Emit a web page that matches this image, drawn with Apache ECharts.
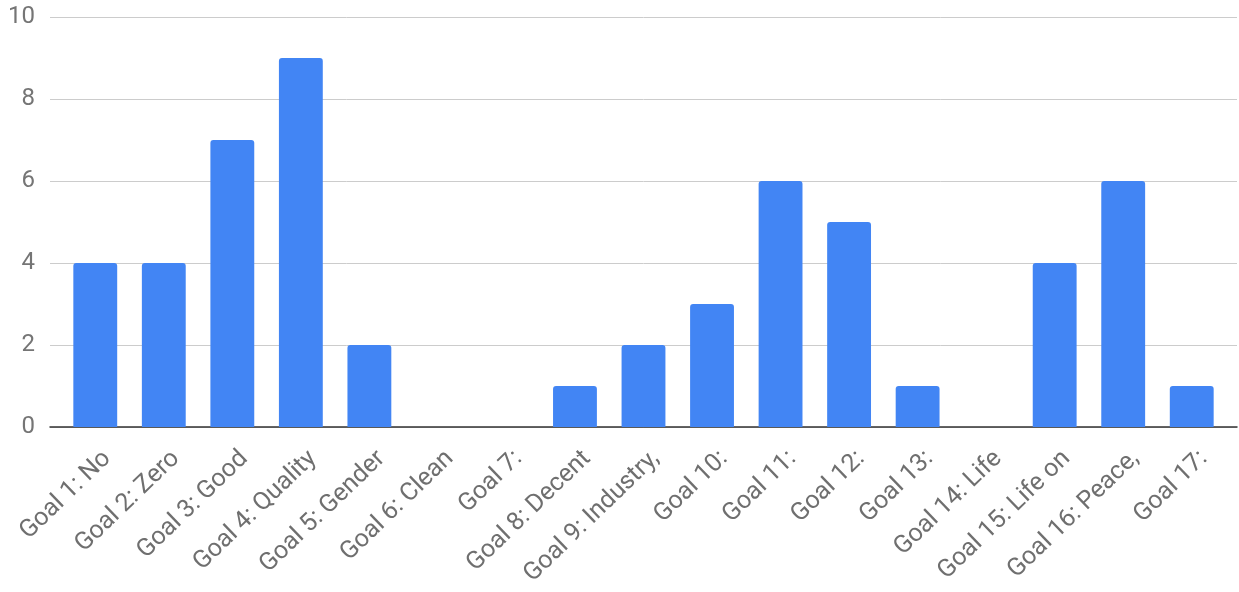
<!DOCTYPE html>
<html>
<head>
<meta charset="utf-8">
<script src="https://cdn.jsdelivr.net/npm/echarts@6/dist/echarts.min.js"></script>
<style>
  html, body { margin: 0; padding: 0; background: #fff; }
  #main { width: 1239px; height: 592px; }
</style>
</head>
<body>
<div id="main"></div>
<script>
var goals = ['Goal 1: No', 'Goal 2: Zero', 'Goal 3: Good', 'Goal 4: Quality', 'Goal 5: Gender',
  'Goal 6: Clean', 'Goal 7:', 'Goal 8: Decent', 'Goal 9: Industry,', 'Goal 10:', 'Goal 11:',
  'Goal 12:', 'Goal 13:', 'Goal 14: Life', 'Goal 15: Life on', 'Goal 16: Peace,', 'Goal 17:'];
var counts = [4, 4, 7, 9, 2, 0, 0, 1, 2, 3, 6, 5, 1, 0, 4, 6, 1];
var yTicks = [0, 2, 4, 6, 8, 10];

var chart = echarts.init(document.getElementById('main'));
var font = 'Roboto, "Noto Sans", sans-serif';
var yMin = yTicks[0], yMax = yTicks[yTicks.length - 1];

var option = {
  animation: false,
  grid: [
    // 0: gridlines + baseline, wider than the bars
    { left: 50, right: 2, top: 17, bottom: 165 },
    // 1: bars
    { left: 61, right: 13, top: 17, bottom: 165 },
    // 2: category labels, nudged right like the original
    { left: 73, right: 1, top: 17, bottom: 165 }
  ],
  xAxis: [
    {
      gridIndex: 0, type: 'value', min: 0, max: 1,
      axisLine: { show: true, onZero: false, lineStyle: { color: '#333', width: 1.5 } },
      axisTick: { show: false }, axisLabel: { show: false }, splitLine: { show: false }
    },
    {
      gridIndex: 1, type: 'category', data: goals,
      axisLine: { show: false }, axisTick: { show: false }, axisLabel: { show: false }
    },
    {
      gridIndex: 2, type: 'category', data: goals,
      axisLine: { show: false }, axisTick: { show: false },
      axisLabel: {
        interval: 0, rotate: 44, margin: 28,
        color: '#6f6f6f', fontSize: 25, fontFamily: font
      }
    }
  ],
  yAxis: [
    {
      gridIndex: 0, type: 'value', min: yMin, max: yMax, interval: 2,
      axisLine: { show: false }, axisTick: { show: false },
      axisLabel: { margin: 15, color: '#757575', fontSize: 24, fontFamily: font },
      splitLine: { lineStyle: { color: '#cccccc', width: 1 } }
    },
    { gridIndex: 1, type: 'value', min: yMin, max: yMax, interval: 2, show: false },
    { gridIndex: 2, type: 'value', min: yMin, max: yMax, interval: 2, show: false }
  ],
  series: [{
    type: 'bar', xAxisIndex: 1, yAxisIndex: 1,
    data: counts,
    barCategoryGap: '36%',
    itemStyle: { color: '#4285F4', borderRadius: [3, 3, 0, 0] }
  }]
};
chart.setOption(option);
</script>
</body>
</html>
